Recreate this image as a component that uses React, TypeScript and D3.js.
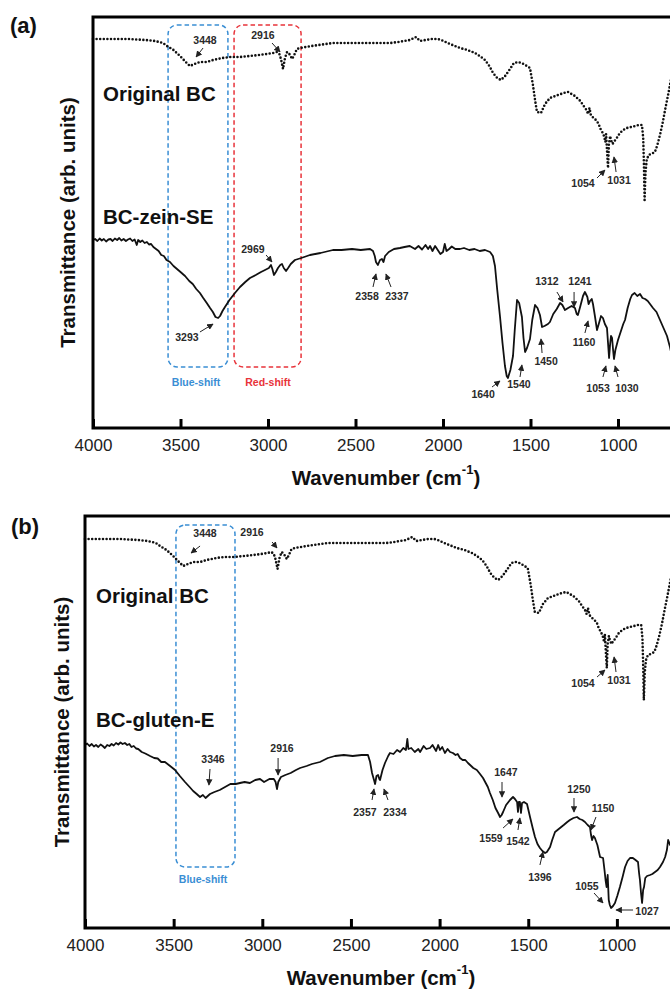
import React, { useEffect, useRef } from 'react';
import * as d3 from 'd3';

type Pt = [number, number];

// wavenumber (cm-1), transmittance (arb. units)
const xTicks = [4000, 3500, 3000, 2500, 2000, 1500, 1000];

const originalBC: Pt[] = [
  [4000, 38.9], [3900, 38.9], [3800, 38.9], [3700, 38.8], [3646, 38.7], [3600, 38.5], [3577, 38.2],
  [3540, 37.8], [3503, 37.2], [3470, 36.6], [3446, 36.2], [3420, 36.4], [3389, 36.6], [3350, 36.6],
  [3314, 36.8], [3260, 37.0], [3217, 37.1], [3160, 37.1], [3103, 37.2], [3050, 37.3], [3006, 37.4],
  [2970, 37.5], [2949, 37.6], [2935, 37.4], [2926, 36.9], [2914, 35.9], [2903, 37.0], [2891, 37.6],
  [2878, 37.4], [2862, 36.9], [2850, 37.3], [2835, 37.9], [2817, 38.0], [2750, 38.2], [2629, 38.5],
  [2500, 38.5], [2400, 38.5], [2300, 38.5], [2257, 38.6], [2189, 38.8], [2154, 39.1], [2131, 38.7],
  [2100, 38.8], [2063, 38.9], [2030, 38.9], [2011, 38.8], [1960, 38.4], [1903, 38.0], [1860, 37.8],
  [1817, 37.5], [1790, 37.2], [1760, 36.8], [1735, 36.2], [1714, 35.5], [1690, 35.0], [1669, 34.8],
  [1645, 35.2], [1617, 35.9], [1595, 36.5], [1571, 36.6], [1550, 36.5], [1530, 36.3], [1503, 36.0],
  [1486, 34.3], [1474, 32.8], [1463, 31.6], [1440, 31.5], [1417, 32.4], [1389, 33.0], [1343, 33.3],
  [1310, 33.5], [1286, 33.6], [1246, 33.2], [1215, 32.7], [1200, 32.3], [1180, 31.8], [1171, 31.4],
  [1163, 32.0], [1155, 31.3], [1140, 31.0], [1126, 30.8], [1110, 30.4], [1103, 30.0], [1090, 29.6],
  [1080, 29.2], [1072, 28.6], [1068, 29.4], [1063, 27.8], [1057, 26.0], [1052, 28.4], [1045, 29.2],
  [1040, 28.8], [1031, 28.4], [1020, 28.7], [1011, 28.9], [989, 29.5], [970, 29.8], [949, 30.0],
  [925, 30.1], [903, 30.2], [880, 30.3], [863, 30.3], [856, 29.0], [852, 26.5], [848, 22.8],
  [843, 25.5], [836, 26.8], [825, 27.3], [810, 27.4], [789, 27.6], [775, 28.3], [760, 29.3],
  [745, 30.5], [731, 31.8], [715, 33.2], [703, 34.3], [690, 35.5],
];

const zeinSE: Pt[] = [
  [4000, 18.8], [3988, 18.9], [3975, 18.7], [3962, 18.95], [3950, 18.75], [3938, 18.9], [3925, 18.65],
  [3912, 18.85], [3900, 18.9], [3888, 18.7], [3875, 18.95], [3862, 18.8], [3850, 19.0], [3838, 18.75],
  [3825, 18.9], [3812, 18.7], [3800, 18.85], [3788, 18.95], [3775, 18.7], [3762, 18.85], [3750, 18.3],
  [3742, 18.8], [3730, 18.6], [3718, 18.75], [3705, 18.5], [3692, 18.6], [3680, 18.35], [3668, 18.4],
  [3655, 18.1], [3640, 17.9], [3625, 17.7], [3610, 17.3], [3595, 17.2], [3580, 16.8], [3560, 16.6],
  [3540, 16.2], [3520, 15.9], [3500, 15.6], [3474, 15.2], [3450, 14.7],
  [3430, 14.4], [3410, 13.9], [3389, 13.5], [3370, 13.0], [3350, 12.5], [3331, 12.0], [3315, 11.6],
  [3300, 11.1], [3285, 11.0], [3274, 11.2], [3260, 11.7], [3246, 12.1], [3220, 12.8], [3189, 13.5],
  [3160, 14.1], [3130, 14.6], [3103, 15.0], [3070, 15.3], [3040, 15.6], [3017, 15.8], [2995, 16.0],
  [2983, 16.3], [2975, 15.9], [2966, 15.3], [2955, 15.6], [2943, 16.0], [2930, 16.3], [2920, 16.4],
  [2910, 16.0], [2897, 15.7], [2885, 16.0], [2870, 16.4], [2846, 16.8], [2810, 17.0], [2760, 17.3],
  [2700, 17.5], [2629, 17.8], [2580, 17.8], [2520, 17.9], [2470, 17.8], [2417, 17.9], [2400, 17.7],
  [2390, 17.2], [2383, 16.6], [2372, 16.3], [2360, 16.8], [2349, 16.9], [2340, 16.6], [2331, 17.2],
  [2310, 17.6], [2280, 17.9], [2246, 18.0], [2220, 18.1], [2190, 18.2], [2160, 17.9], [2140, 18.2],
  [2120, 17.85], [2100, 18.3], [2085, 17.9], [2074, 18.2], [2060, 17.7], [2045, 18.2], [2030, 17.8],
  [2015, 17.4], [2000, 17.6], [1990, 18.4], [1980, 17.7], [1965, 17.9], [1950, 18.15], [1930, 17.9],
  [1903, 17.9], [1880, 18.0], [1850, 17.8], [1820, 17.9], [1790, 17.7], [1760, 17.8], [1731, 17.6],
  [1715, 17.2], [1703, 16.2], [1690, 13.8], [1674, 11.1], [1660, 8.5], [1646, 6.2], [1636, 5.2],
  [1629, 5.0], [1615, 5.8], [1600, 7.2], [1590, 9.8], [1577, 12.8], [1565, 12.5], [1549, 11.1],
  [1540, 9.0], [1531, 7.6], [1520, 8.0], [1503, 8.9], [1490, 10.8], [1474, 12.3], [1460, 12.0],
  [1446, 11.3], [1434, 10.1], [1420, 10.2], [1400, 10.4], [1389, 10.6], [1370, 11.4], [1350, 11.9],
  [1331, 12.5], [1318, 12.3], [1303, 11.8], [1285, 12.0], [1265, 12.2], [1246, 12.0], [1236, 11.4],
  [1229, 11.3], [1215, 12.2], [1200, 13.2], [1189, 13.6], [1175, 13.1], [1168, 12.4], [1160, 12.7],
  [1150, 12.9], [1143, 12.4], [1132, 11.2], [1120, 9.8], [1110, 10.4], [1097, 11.2], [1086, 11.0],
  [1075, 10.4], [1063, 10.0], [1057, 8.5], [1051, 7.0], [1045, 8.4], [1040, 9.2], [1034, 9.0],
  [1028, 7.8], [1023, 6.9], [1015, 7.8], [1000, 8.8], [985, 9.6], [970, 10.4], [960, 10.8],
  [945, 12.0], [930, 12.9], [920, 13.3], [905, 13.5], [890, 13.2], [874, 13.4], [860, 13.0],
  [845, 12.9], [830, 12.7], [817, 12.4], [800, 12.0], [780, 11.6], [760, 10.8], [740, 10.0],
  [720, 9.2], [703, 8.1], [690, 7.0],
];

const glutenE: Pt[] = [
  [4000, 18.3], [3988, 18.45], [3975, 18.2], [3962, 18.4], [3950, 18.15], [3938, 18.3], [3925, 18.1],
  [3912, 18.35], [3900, 18.2], [3888, 18.0], [3875, 18.3], [3862, 18.2], [3850, 18.4], [3838, 18.25],
  [3825, 18.5], [3812, 18.35], [3800, 18.55], [3788, 18.4], [3775, 18.5], [3762, 18.3], [3750, 18.4],
  [3738, 18.1], [3725, 18.2], [3712, 17.95], [3700, 17.9], [3680, 17.6], [3660, 17.45], [3633, 17.2],
  [3610, 17.0], [3590, 16.95], [3570, 16.6], [3549, 16.6],
  [3520, 16.2], [3492, 15.8], [3465, 15.2], [3436, 14.6], [3410, 14.1], [3390, 13.7], [3370, 13.4],
  [3351, 13.1], [3335, 13.3], [3320, 13.0], [3295, 13.4], [3270, 13.6], [3240, 13.8], [3210, 14.1],
  [3180, 14.4], [3150, 14.4], [3126, 14.5], [3100, 14.6], [3070, 14.5], [3040, 14.8], [3013, 14.9],
  [2990, 14.6], [2960, 14.9], [2935, 14.9], [2925, 14.6], [2917, 13.9], [2910, 14.6], [2895, 15.1],
  [2870, 15.3], [2840, 15.5], [2810, 15.8], [2787, 16.0], [2750, 16.2], [2720, 16.4], [2675, 16.6],
  [2630, 17.0], [2590, 17.2], [2540, 17.3], [2490, 17.2], [2440, 17.3], [2404, 17.3], [2392, 16.6],
  [2381, 15.5], [2370, 14.8], [2364, 14.4], [2356, 15.2], [2347, 15.3], [2340, 14.9], [2336, 14.8],
  [2322, 15.8], [2308, 16.5], [2290, 17.2], [2280, 17.5], [2260, 17.4], [2240, 17.8], [2223, 17.6],
  [2205, 18.0], [2190, 17.8], [2182, 18.9], [2176, 17.9], [2160, 18.0], [2140, 17.6], [2120, 17.9],
  [2110, 17.6], [2090, 18.2], [2075, 17.9], [2054, 18.0], [2040, 18.3], [2020, 17.7], [2008, 18.3],
  [1998, 17.8], [1985, 18.1], [1970, 17.5], [1955, 17.9], [1941, 17.6], [1925, 17.5], [1910, 17.3],
  [1898, 17.4], [1885, 17.0], [1870, 16.8], [1855, 16.8], [1840, 16.5], [1828, 16.3], [1810, 16.0],
  [1790, 15.8], [1772, 15.4], [1755, 15.0], [1740, 14.5], [1728, 14.1], [1716, 13.5], [1700, 12.8],
  [1685, 12.0], [1670, 11.5], [1659, 11.1], [1650, 11.3], [1642, 11.6], [1625, 12.3], [1603, 12.8],
  [1586, 13.1], [1575, 12.9], [1563, 12.6], [1558, 11.6], [1553, 12.6], [1547, 12.6], [1541, 11.5],
  [1535, 12.5], [1524, 12.6], [1507, 12.4], [1490, 11.1], [1475, 10.0], [1462, 9.1], [1448, 8.4],
  [1434, 8.0], [1420, 7.7], [1405, 7.5], [1395, 7.6], [1377, 8.1], [1365, 8.8], [1349, 9.6],
  [1335, 9.8], [1321, 10.0], [1300, 10.3], [1280, 10.6], [1265, 10.8], [1245, 11.0], [1225, 11.1],
  [1210, 10.9], [1195, 10.8], [1180, 10.6], [1165, 10.3], [1152, 10.1], [1146, 9.3], [1140, 8.8],
  [1132, 9.2], [1124, 9.0], [1110, 8.3], [1095, 7.1], [1078, 7.0], [1070, 5.8], [1064, 4.8],
  [1058, 4.1], [1052, 5.3], [1046, 2.8], [1040, 2.3], [1033, 2.0], [1022, 2.2], [1011, 2.5],
  [998, 3.2], [983, 4.1], [968, 5.1], [954, 6.1], [940, 6.7], [926, 7.0], [910, 7.0], [895, 6.8],
  [881, 6.6], [875, 5.5], [870, 4.8], [864, 3.5], [858, 2.5], [852, 3.8], [847, 4.1], [840, 5.0],
  [830, 5.2], [813, 5.3], [800, 5.4], [785, 5.6], [770, 5.8], [757, 6.1], [740, 6.6], [728, 7.1],
  [718, 7.8], [711, 8.8], [700, 8.3], [690, 9.0],
];

// series names and where they are written (wavenumber, transmittance)
const namesA = ['Original BC', 'BC-zein-SE'];
const namesB = ['Original BC', 'BC-gluten-E'];
const nameAtA: Pt[] = [[3943, 33.5], [3943, 21.2]];
const nameAtB: Pt[] = [[3938, 33.3], [3938, 20.9]];

// peak labels: text position, arrow tail, arrow tip (data units)
interface Note { text: string; at: Pt; from: Pt; to: Pt }
const notesA: Note[] = [
  { text: '3448', at: [3360, 38.8], from: [3371, 38.0], to: [3411, 37.1] },
  { text: '2916', at: [3029, 39.3], from: [2977, 38.5], to: [2931, 37.6] },
  { text: '1054', at: [1200, 24.5], from: [1120, 25.0], to: [1074, 25.8] },
  { text: '1031', at: [994, 24.8], from: [1011, 25.6], to: [1023, 27.1] },
  { text: '2969', at: [3086, 17.9], from: [3011, 17.3], to: [2977, 16.6] },
  { text: '3293', at: [3463, 9.1], from: [3389, 9.6], to: [3314, 10.4] },
  { text: '2358', at: [2434, 13.2], from: [2400, 14.1], to: [2383, 15.4] },
  { text: '2337', at: [2263, 13.2], from: [2297, 14.1], to: [2326, 15.4] },
  { text: '1640', at: [1771, 3.4], from: [1720, 4.1], to: [1674, 4.7] },
  { text: '1540', at: [1566, 4.4], from: [1560, 5.1], to: [1549, 6.3] },
  { text: '1450', at: [1411, 6.7], from: [1434, 7.5], to: [1440, 8.9] },
  { text: '1312', at: [1406, 14.7], from: [1349, 13.6], to: [1314, 12.6] },
  { text: '1241', at: [1217, 14.7], from: [1251, 13.6], to: [1251, 12.1] },
  { text: '1160', at: [1194, 8.6], from: [1189, 9.5], to: [1171, 10.7] },
  { text: '1053', at: [1114, 4.0], from: [1086, 5.1], to: [1069, 6.2] },
  { text: '1030', at: [949, 4.0], from: [1000, 5.1], to: [1017, 6.2] },
];
const notesB: Note[] = [
  { text: '3448', at: [3323, 39.5], from: [3351, 38.2], to: [3402, 37.5] },
  { text: '2916', at: [3058, 39.6], from: [2945, 38.6], to: [2917, 38.0] },
  { text: '1054', at: [1191, 24.5], from: [1112, 25.1], to: [1067, 25.8] },
  { text: '1031', at: [988, 24.8], from: [1005, 25.6], to: [1016, 27.1] },
  { text: '3346', at: [3278, 16.9], from: [3295, 15.9], to: [3301, 14.3] },
  { text: '2916', at: [2889, 18.0], from: [2911, 17.0], to: [2911, 15.3] },
  { text: '2357', at: [2421, 11.6], from: [2381, 12.8], to: [2370, 13.9] },
  { text: '2334', at: [2252, 11.6], from: [2291, 12.8], to: [2314, 13.9] },
  { text: '1647', at: [1626, 15.6], from: [1648, 14.6], to: [1648, 13.1] },
  { text: '1559', at: [1710, 9.0], from: [1642, 10.0], to: [1586, 10.9] },
  { text: '1542', at: [1558, 8.7], from: [1558, 9.8], to: [1547, 11.0] },
  { text: '1396', at: [1434, 5.1], from: [1434, 6.3], to: [1417, 7.6] },
  { text: '1250', at: [1214, 13.9], from: [1242, 13.0], to: [1242, 11.6] },
  { text: '1150', at: [1078, 12.0], from: [1118, 11.1], to: [1146, 9.8] },
  { text: '1055', at: [1169, 4.2], from: [1129, 3.5], to: [1078, 2.5] },
  { text: '1027', at: [830, 1.7], from: [909, 1.8], to: [1005, 1.8] },
];

// shift regions: wavenumber span, transmittance span, label position
interface Shift { kind: 'blue' | 'red'; label: string; x: Pt; y: Pt; at: Pt }
const shiftsA: Shift[] = [
  { kind: 'blue', label: 'Blue-shift', x: [3571, 3229], y: [40.3, 6.1], at: [3411, 4.6] },
  { kind: 'red', label: 'Red-shift', x: [3194, 2811], y: [40.3, 6.1], at: [3000, 4.6] },
];
const shiftsB: Shift[] = [
  { kind: 'blue', label: 'Blue-shift', x: [3487, 3154], y: [40.3, 6.1], at: [3334, 4.9] },
];

const W = 670;
const H = 991;
const FONT = "Arial, 'Liberation Sans', sans-serif";
const shiftColor = { blue: '#3a8ed4', red: '#e8333a' };

const panels = [
  { tag: '(a)', tagX: 10, tagY: 25, left: 93, top: 17, bottom: 428, k: 0.175, names: namesA, nameAt: nameAtA,
    lower: zeinSE, notes: notesA, shifts: shiftsA, xTitleX: 386, xTitleY: 477, yTitleX: 67 },
  { tag: '(b)', tagX: 11, tagY: 526, left: 85, top: 516, bottom: 928, k: 0.1773, names: namesB, nameAt: nameAtB,
    lower: glutenE, notes: notesB, shifts: shiftsB, xTitleX: 381, xTitleY: 977, yTitleX: 61 },
];

const App: React.FC = () => {
  const svgRef = useRef<SVGSVGElement>(null);

  useEffect(() => {
    if (!svgRef.current) return;
    const svg = d3.select(svgRef.current);
    svg.selectAll('*').remove();

    const defs = svg.append('defs');
    defs.append('marker')
      .attr('id', 'arr')
      .attr('viewBox', '0 0 10 10')
      .attr('refX', 9).attr('refY', 5)
      .attr('markerWidth', 6.5).attr('markerHeight', 6.5)
      .attr('orient', 'auto')
      .append('path').attr('d', 'M0,0 L10,5 L0,10 z').attr('fill', '#222');

    panels.forEach(p => {
      const g = svg.append('g');
      const x = d3.scaleLinear().domain([4000, 500]).range([p.left, p.left + 3500 * p.k]);
      const y = d3.scaleLinear().domain([0, (p.bottom - p.top) / 10]).range([p.bottom, p.top]);
      const line = d3.line<Pt>().x(d => x(d[0])).y(d => y(d[1]));

      // shift boxes
      p.shifts.forEach(s => {
        const c = shiftColor[s.kind];
        g.append('rect')
          .attr('x', x(s.x[0])).attr('y', y(s.y[0]))
          .attr('width', x(s.x[1]) - x(s.x[0])).attr('height', y(s.y[1]) - y(s.y[0]))
          .attr('rx', 9).attr('ry', 9)
          .attr('fill', 'none').attr('stroke', c).attr('stroke-width', 1.5)
          .attr('stroke-dasharray', '4.5 3');
        g.append('text')
          .attr('x', x(s.at[0])).attr('y', y(s.at[1]))
          .attr('text-anchor', 'middle').attr('dominant-baseline', 'central')
          .attr('font-family', FONT).attr('font-weight', 'bold').attr('font-size', 10.5)
          .attr('fill', c).text(s.label);
      });

      // spectra
      g.append('path').datum(originalBC).attr('d', line)
        .attr('fill', 'none').attr('stroke', '#111').attr('stroke-width', 2.6)
        .attr('stroke-linecap', 'round').attr('stroke-dasharray', '0 3.6');
      g.append('path').datum(p.lower).attr('d', line)
        .attr('fill', 'none').attr('stroke', '#111').attr('stroke-width', 1.8)
        .attr('stroke-linejoin', 'round');

      // series names
      p.names.forEach((n, i) => {
        g.append('text')
          .attr('x', x(p.nameAt[i][0])).attr('y', y(p.nameAt[i][1]))
          .attr('dominant-baseline', 'central')
          .attr('font-family', FONT).attr('font-weight', 'bold').attr('font-size', 20.5)
          .attr('fill', '#111').text(n);
      });

      // peak notes
      p.notes.forEach(n => {
        g.append('line')
          .attr('x1', x(n.from[0])).attr('y1', y(n.from[1]))
          .attr('x2', x(n.to[0])).attr('y2', y(n.to[1]))
          .attr('stroke', '#222').attr('stroke-width', 1)
          .attr('marker-end', 'url(#arr)');
        g.append('text')
          .attr('x', x(n.at[0])).attr('y', y(n.at[1]))
          .attr('text-anchor', 'middle').attr('dominant-baseline', 'central')
          .attr('font-family', FONT).attr('font-weight', 'bold').attr('font-size', 10.5)
          .attr('fill', '#2a2a2a').text(n.text);
      });

      // frame (right side runs off the picture)
      const right = x(500);
      g.append('path')
        .attr('d', `M${right},${p.top}H${p.left}V${p.bottom}H${right}`)
        .attr('fill', 'none').attr('stroke', '#000').attr('stroke-width', 3);

      // x axis ticks
      const ax = g.append('g').attr('transform', `translate(0,${p.bottom})`)
        .call(d3.axisBottom(x).tickValues(xTicks).tickSize(-9).tickPadding(11).tickFormat(d3.format('d')));
      ax.select('.domain').remove();
      ax.selectAll('.tick line').attr('stroke', '#000').attr('stroke-width', 3);
      ax.selectAll('.tick text')
        .attr('font-family', FONT).attr('font-size', 17).attr('fill', '#222');

      // titles
      const xt = g.append('text')
        .attr('x', p.xTitleX).attr('y', p.xTitleY)
        .attr('text-anchor', 'middle').attr('dominant-baseline', 'central')
        .attr('font-family', FONT).attr('font-weight', 'bold').attr('font-size', 20.5)
        .attr('fill', '#111');
      xt.append('tspan').text('Wavenumber (cm');
      xt.append('tspan').attr('dy', -8).attr('font-size', 13).text('-1');
      xt.append('tspan').attr('dy', 8).text(')');

      g.append('text')
        .attr('transform', `translate(${p.yTitleX},${(p.top + p.bottom) / 2}) rotate(-90)`)
        .attr('text-anchor', 'middle').attr('dominant-baseline', 'central')
        .attr('font-family', FONT).attr('font-weight', 'bold').attr('font-size', 20.5)
        .attr('fill', '#111').text('Transmittance (arb. units)');

      g.append('text')
        .attr('x', p.tagX).attr('y', p.tagY)
        .attr('dominant-baseline', 'central')
        .attr('font-family', FONT).attr('font-weight', 'bold').attr('font-size', 22)
        .attr('fill', '#111').text(p.tag);
    });
  }, []);

  return (
    <svg ref={svgRef} width={W} height={H}
      style={{ position: 'absolute', left: 0, top: 0, background: '#fff', display: 'block' }} />
  );
};

export default App;
